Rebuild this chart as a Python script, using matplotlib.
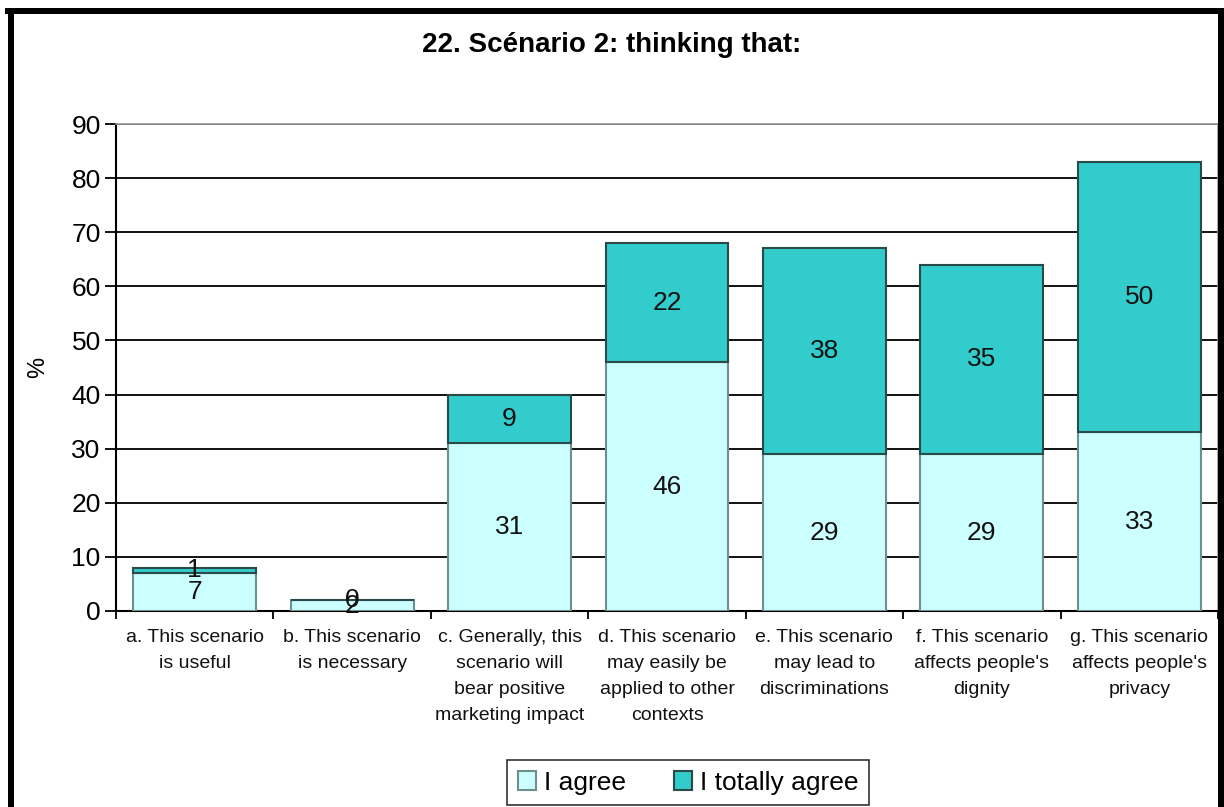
import numpy as np
import matplotlib
matplotlib.use("Agg")
import matplotlib.pyplot as plt
from matplotlib.lines import Line2D

plt.rcParams['font.family'] = ['Liberation Sans', 'DejaVu Sans']

# data (percent)
categories = [
    "a. This scenario\nis useful",
    "b. This scenario\nis necessary",
    "c. Generally, this\nscenario will\nbear positive\nmarketing impact",
    "d. This scenario\nmay easily be\napplied to other\ncontexts",
    "e. This scenario\nmay lead to\ndiscriminations",
    "f. This scenario\naffects people's\ndignity",
    "g. This scenario\naffects people's\nprivacy",
]
agree = [7, 2, 31, 46, 29, 29, 33]
totally_agree = [1, 0, 9, 22, 38, 35, 50]
series_names = ["I agree", "I totally agree"]
yticks = list(range(0, 91, 10))

fig = plt.figure(figsize=(12.24, 8.07), dpi=100)
ax = fig.add_axes([116 / 1224, 1 - 611 / 807, 1102 / 1224, 487 / 807])

x = np.arange(len(categories))
w = 0.78
b1 = ax.bar(x, agree, w, color='#CCFFFF', edgecolor='#6f8f8f', linewidth=1.5,
            label=series_names[0], zorder=3)
b2 = ax.bar(x, totally_agree, w, bottom=agree, color='#33CCCC', edgecolor='#2a4a4a',
            linewidth=1.5, label=series_names[1], zorder=3)
ax.bar_label(b1, labels=[str(v) for v in agree], label_type='center', fontsize=19, color='#111111', zorder=4)
ax.bar_label(b2, labels=[str(v) for v in totally_agree], label_type='center', fontsize=19, color='#111111', zorder=4)

ax.set_xlim(-0.5, len(categories) - 0.5)
ax.set_ylim(0, 90)
ax.set_yticks(yticks)
ax.tick_params(axis='y', labelsize=19, length=8, width=1.3, direction='out', pad=3)
ax.yaxis.grid(True, color='black', linewidth=1.3, zorder=0)
ax.set_axisbelow(True)

ax.set_xticks(x)
ax.set_xticklabels(categories, fontsize=14, linespacing=1.7, color='#111111')
ax.set_xticks(np.arange(-0.5, len(categories), 1.0), minor=True)
ax.tick_params(axis='x', which='major', length=0, pad=13)
ax.tick_params(axis='x', which='minor', length=6, width=1.3, direction='out')

for s in ['top', 'right']:
    ax.spines[s].set_color('#999999')
    ax.spines[s].set_linewidth(1.2)
for s in ['left', 'bottom']:
    ax.spines[s].set_color('black')
    ax.spines[s].set_linewidth(1.5)

ax.set_ylabel('%', fontsize=17, labelpad=16)

fig.text(0.5, 1 - 45 / 807, "22. Scénario 2: thinking that:", ha='center', va='center',
         fontsize=20, fontweight='bold')

leg = fig.legend(handles=[b1, b2], labels=series_names, loc='upper center',
                 bbox_to_anchor=(688 / 1224, 1 - 760 / 807), ncol=2, fontsize=19,
                 frameon=True, fancybox=False, edgecolor='black', handlelength=0.7,
                 handleheight=0.7, handletextpad=0.3, columnspacing=1.8,
                 borderpad=0.4, borderaxespad=0)
leg.get_frame().set_linewidth(1.2)

# black frame around the picture (open at the bottom)
lw = 6 * 72 / 100
fig.add_artist(Line2D([11 / 1224, 11 / 1224], [0, 1 - 11 / 807], transform=fig.transFigure, color='black', lw=lw))
fig.add_artist(Line2D([8 / 1224, 1], [1 - 11 / 807, 1 - 11 / 807], transform=fig.transFigure, color='black', lw=lw))
fig.add_artist(Line2D([1221 / 1224, 1221 / 1224], [0, 1 - 11 / 807], transform=fig.transFigure, color='black', lw=lw))

fig.savefig("out.png", dpi=100)
